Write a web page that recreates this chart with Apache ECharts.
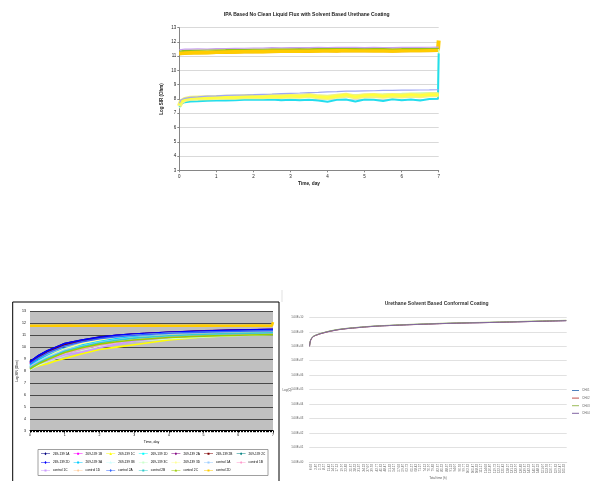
<!DOCTYPE html>
<html><head><meta charset="utf-8">
<script src="https://cdn.jsdelivr.net/npm/echarts@6/dist/echarts.min.js"></script>
<style>html,body{margin:0;padding:0;background:#fff}#c{width:592px;height:481px}</style>
</head><body><div id="c"></div><script>
// ---------- Chart 1 data (IPA Based No Clean Liquid Flux) ----------
const days1 = [0,0.05,0.15,0.3,0.5,0.75,1,1.25,1.5,1.75,2,2.25,2.5,2.75,3,3.25,3.5,3.75,4,4.25,4.5,4.75,5,5.25,5.5,5.75,6,6.25,6.5,6.75,6.98,7];
const c1TopPurple = [11.45,11.48,11.5,11.5,11.52,11.51,11.53,11.54,11.55,11.56,11.58,11.58,11.6,11.59,11.6,11.61,11.6,11.62,11.61,11.62,11.63,11.62,11.6,11.62,11.61,11.6,11.62,11.63,11.62,11.63,11.64,11.64];
const c1TopGreen  = [11.35,11.38,11.4,11.42,11.43,11.44,11.45,11.46,11.48,11.48,11.5,11.5,11.51,11.52,11.52,11.53,11.52,11.54,11.54,11.55,11.55,11.54,11.53,11.54,11.53,11.52,11.53,11.55,11.54,11.55,11.56,11.56];
const c1TopAmber  = [11.15,11.17,11.18,11.2,11.21,11.22,11.24,11.25,11.26,11.27,11.28,11.3,11.29,11.31,11.32,11.33,11.32,11.34,11.35,11.33,11.36,11.35,11.34,11.36,11.35,11.33,11.35,11.37,11.36,11.37,11.38,11.38];
const c1TopGold   = [11.2,11.22,11.25,11.24,11.27,11.26,11.3,11.32,11.31,11.34,11.35,11.33,11.37,11.36,11.38,11.36,11.4,11.39,11.42,11.4,11.43,11.41,11.42,11.4,11.41,11.39,11.42,11.43,11.41,11.44,11.45,12.1];
const c1BotPurple = [7.7,7.95,8.05,8.12,8.15,8.2,8.22,8.25,8.27,8.28,8.3,8.33,8.35,8.38,8.4,8.42,8.45,8.47,8.5,8.52,8.55,8.55,8.57,8.58,8.6,8.6,8.62,8.62,8.63,8.64,8.65,8.65];
const c1BotGreen  = [7.35,7.6,7.85,7.95,8.0,8.02,8.04,8.06,8.08,8.1,8.12,8.14,8.15,8.17,8.19,8.2,8.22,8.24,8.25,8.27,8.29,8.3,8.32,8.34,8.35,8.37,8.38,8.4,8.42,8.44,8.46,11.5];
const c1BotPale   = [7.5,7.8,7.97,8.05,8.07,8.09,8.1,8.12,8.13,8.15,8.17,8.15,8.19,8.17,8.21,8.19,8.25,8.15,8.1,8.2,8.27,8.15,8.23,8.25,8.19,8.25,8.21,8.27,8.23,8.29,8.3,8.3];
const c1BotYellow = [7.6,7.85,7.98,8.05,8.08,8.05,8.1,8.12,8.1,8.15,8.18,8.14,8.2,8.16,8.22,8.18,8.25,8.15,8.1,8.2,8.3,8.15,8.25,8.3,8.2,8.28,8.22,8.3,8.25,8.32,8.3,8.3];
const c1BotCyan   = [7.45,7.68,7.78,7.82,7.84,7.87,7.89,7.9,7.92,7.94,7.97,7.95,7.97,7.92,7.94,7.92,7.95,7.9,7.8,7.94,7.97,7.82,7.97,7.94,7.86,7.98,7.92,7.97,7.9,8.0,8.02,11.2];

// ---------- Chart 2 data (Log SIR vs Time, 20 channels) ----------
const days2 = [0,0.1,0.25,0.5,0.75,1,1.5,2,2.5,3,4,5,6,7];
const names2 = ['269-139 1A','269-139 1B','269-139 1C','269-139 1D','269-139 2A','269-139 2B','269-139 2C',
                '269-139 2D','269-139 3A','269-139 3B','269-139 3C','269-139 3D','control 1A','control 1B',
                'control 1C','control 1D','control 2A','control 2B','control 2C','control 2D'];
const colors2 = ['#000080','#FF00FF','#FFFF00','#00FFFF','#800080','#800000','#008080',
                 '#0000FF','#00CCFF','#CCFFFF','#CCFFCC','#FFFF99','#99CCFF','#FF99CC',
                 '#CC99FF','#FFCC99','#3366FF','#33CCCC','#99CC00','#FFCC00'];
const markers2 = ['diamond','square','triangle','square','diamond','square','diamond',
                  'diamond','square','triangle','square','diamond','square','diamond',
                  'square','diamond','diamond','square','triangle','square'];
const s1A = [8.8,9.0,9.3,9.7,10.0,10.3,10.6,10.85,11.0,11.1,11.25,11.35,11.42,11.48];
const s1B = [8.6,8.85,9.15,9.55,9.9,10.2,10.5,10.75,10.92,11.05,11.2,11.3,11.38,11.45];
const s1C = [8.2,8.3,8.45,8.6,8.85,9.05,9.45,9.8,10.0,10.2,10.6,10.85,11.0,11.12];
const s1D = [8.4,8.6,8.85,9.2,9.5,9.8,10.2,10.5,10.7,10.88,11.05,11.15,11.22,11.28];
const s2A = [8.7,8.95,9.25,9.65,9.95,10.25,10.55,10.8,10.98,11.1,11.25,11.36,11.44,11.5];
const s2B = [8.65,8.9,9.2,9.6,9.9,10.2,10.5,10.78,10.95,11.08,11.22,11.32,11.4,11.46];
const s2C = [8.3,8.5,8.75,9.05,9.35,9.6,9.95,10.3,10.5,10.68,10.9,11.05,11.15,11.22];
const s2D = [8.75,9.0,9.3,9.7,10.0,10.3,10.6,10.82,11.0,11.1,11.24,11.34,11.42,11.47];
const s3A = [8.5,8.7,8.95,9.3,9.6,9.9,10.25,10.55,10.75,10.9,11.08,11.18,11.25,11.3];
const s3B = [8.1,8.3,8.55,8.9,9.2,9.5,9.9,10.25,10.5,10.7,10.95,11.1,11.2,11.28];
const s3C = [8.15,8.3,8.5,8.8,9.05,9.3,9.7,10.05,10.3,10.5,10.7,10.85,10.98,11.05];
const s3D = [8.3,8.5,8.8,9.2,9.55,9.85,10.3,10.6,10.85,11.0,11.15,11.22,11.28,11.32];
const sc1A = [8.35,8.55,8.8,9.15,9.45,9.75,10.1,10.4,10.62,10.8,11.0,11.12,11.2,11.26];
const sc1B = [8.3,8.5,8.7,9.0,9.25,9.5,9.85,10.15,10.4,10.6,10.82,10.98,11.08,11.15];
const sc1C = [8.25,8.4,8.6,8.85,9.1,9.35,9.6,9.95,10.25,10.5,10.8,11.0,11.12,11.2];
const sc1D = [8.2,8.4,8.65,9.0,9.3,9.6,10.0,10.3,10.55,10.75,10.98,11.1,11.18,11.24];
const sc2A = [8.6,8.8,9.1,9.5,9.8,10.1,10.45,10.7,10.88,11.0,11.16,11.26,11.33,11.38];
const sc2B = [8.25,8.45,8.7,9.05,9.35,9.65,10.05,10.35,10.58,10.75,10.95,11.08,11.15,11.2];
const sc2C = [8.15,8.35,8.6,8.95,9.25,9.55,9.95,10.25,10.45,10.6,10.8,10.92,11.0,11.06];
const days2D = [0,0.5,1,1.5,2,2.5,3,3.5,4,4.5,5,5.5,6,6.5,6.97,7];
const sc2D = [11.8,11.78,11.82,11.79,11.81,11.8,11.78,11.82,11.8,11.79,11.81,11.8,11.78,11.81,11.8,12.1];
const values2 = [s1A,s1B,s1C,s1D,s2A,s2B,s2C,s2D,s3A,s3B,s3C,s3D,sc1A,sc1B,sc1C,sc1D,sc2A,sc2B,sc2C];

// ---------- Chart 3 data (Urethane Solvent Based Conformal Coating) ----------
const hours3 = ['0.02','2.87','5.72','8.57','11.42','14.27','17.12','19.97','22.82','25.67','28.52','31.37','34.22','37.07','39.92',
  '42.77','45.62','48.47','51.32','54.17','57.02','59.87','62.72','65.57','68.42','71.27','74.12','76.97','79.82','82.67',
  '85.52','88.37','91.22','94.07','96.92','99.77','102.62','105.47','108.32','111.17','114.02','116.87','119.72','122.57',
  '125.42','128.27','131.12','133.97','136.82','139.67','142.52','145.37','148.22','151.07','153.92','156.77','159.62','162.47','165.32'];
const pos3 = [-0.45,-0.3,-0.15,0.1,0.4,1.15,2.67,4.96,7.25,10.3,14.1,17.9,25.6,33.2,40.8,48.5,58.4];
const ch01 = [1.0e8,2.0e8,2.8e8,3.8e8,4.7e8,6.0e8,8.4e8,1.22e9,1.56e9,1.93e9,2.38e9,2.72e9,3.36e9,3.95e9,4.4e9,5.0e9,5.9e9];
const ch02 = [1.0e8,1.9e8,2.7e8,3.6e8,4.5e8,5.8e8,8.1e8,1.18e9,1.52e9,1.88e9,2.33e9,2.68e9,3.3e9,3.9e9,4.35e9,4.95e9,5.85e9];
const ch03 = [1.0e8,2.1e8,2.9e8,3.9e8,4.9e8,6.2e8,8.7e8,1.27e9,1.62e9,2.0e9,2.46e9,2.82e9,3.5e9,4.1e9,4.6e9,5.25e9,6.2e9];
const ch04 = [1.0e8,2.0e8,2.75e8,3.7e8,4.6e8,5.9e8,8.3e8,1.2e9,1.55e9,1.91e9,2.36e9,2.7e9,3.33e9,3.92e9,4.38e9,4.98e9,5.88e9];
const names3 = ['CH01','CH02','CH03','CH04'];
const colors3 = ['#4F81BD','#C0504D','#9BBB59','#8064A2'];

// ---------- build ----------
const F = 'Liberation Sans';
const zip = (xs, ys) => xs.map((x, i) => [x, ys[i]]);
const chart = echarts.init(document.getElementById('c'), null, {renderer: 'canvas'});

const series = [];
function s1(data, color, w) {
  series.push({type:'line', xAxisIndex:0, yAxisIndex:0, data: zip(days1, data), showSymbol:false, symbol:'none',
    lineStyle:{color, width:w}, itemStyle:{color}, silent:true, animation:false});
}
s1(c1TopAmber,'#F2B705',2.5);
s1(c1TopGold,'#FFCC00',4);
s1(c1TopGreen,'#92C020',1.3);
s1(c1TopPurple,'#C9A0F0',1.1);
s1(c1BotGreen,'#CCFFAA',1.5);
s1(c1BotCyan,'#22DDEE',2);
s1(c1BotPale,'#F4F47C',5);
s1(c1BotYellow,'#FFFF40',2.5);
s1(c1BotPurple,'#9FA8F5',1.2);

values2.forEach((v, i) => {
  series.push({type:'line', name:names2[i], xAxisIndex:1, yAxisIndex:1, data: zip(days2, v), showSymbol:false,
    symbol:'none', lineStyle:{color:colors2[i], width:1.6}, itemStyle:{color:colors2[i]}, animation:false});
});
series.push({type:'line', name:names2[19], xAxisIndex:1, yAxisIndex:1, data: zip(days2D, sc2D), showSymbol:false,
  symbol:'none', lineStyle:{color:colors2[19], width:2.5}, itemStyle:{color:colors2[19]}, animation:false});

[ch01, ch02, ch03, ch04].forEach((v, i) => {
  series.push({type:'line', name:names3[i], xAxisIndex:3, yAxisIndex:2, data: zip(pos3, v), showSymbol:false, symbol:'none',
    smooth:true, lineStyle:{color:colors3[i], width:1}, itemStyle:{color:colors3[i]}, animation:false});
});

// legend icon paths (line with marker), drawn 9 x 3
const iconPaths = {
  diamond:  'path://M0,1.25H9V1.75H0Z M4.5,0L5.7,1.5L4.5,3L3.3,1.5Z',
  square:   'path://M0,1.25H9V1.75H0Z M3.5,0.5H5.5V2.5H3.5Z M0,0H0.01V3H0Z',
  triangle: 'path://M0,1.25H9V1.75H0Z M4.5,0L5.8,2.6H3.2Z M0,0H0.01V3H0Z'
};
const legends = names2.map((n, i) => ({
  data:[n], left: 41 + (i % 7) * 32.6, top: [452.3, 461, 469][Math.floor(i / 7)],
  itemWidth:9, itemHeight:3, padding:0, itemGap:0, selectedMode:false, icon: iconPaths[markers2[i]],
  textStyle:{fontSize:3.2, fontFamily:F, color:'#000', padding:[0,0,0,-2]}
}));
legends.push({data:names3, orient:'vertical', left:572, top:389, itemWidth:7, itemHeight:1, itemGap:4.6, padding:0,
  selectedMode:false, textStyle:{fontSize:3, fontFamily:F, color:'#666', padding:[0,0,0,-2]}, icon:'rect'});

const option = {
  animation:false,
  textStyle:{fontFamily:F},
  grid:[
    {left:179.3, top:27.7, width:259.4, height:142.6},
    {left:30, top:311.3, width:243, height:119.4, show:true, backgroundColor:'#C0C0C0', borderWidth:0},
    {left:309.3, top:317.3, width:257.4, height:146.7}
  ],
  xAxis:[
    {type:'value', gridIndex:0, min:0, max:7, interval:1,
     axisLine:{lineStyle:{color:'#868686', width:1}}, axisTick:{length:2, lineStyle:{color:'#868686'}},
     axisLabel:{fontSize:4.5, color:'#222', margin:3.5}, splitLine:{show:false},
     name:'Time, day', nameLocation:'middle', nameGap:10.5, nameTextStyle:{fontSize:4.8, fontWeight:'bold', color:'#222'}},
    {type:'value', gridIndex:1, min:0, max:7, interval:1,
     axisLine:{lineStyle:{color:'#000', width:1}}, axisTick:{length:2, lineStyle:{color:'#000'}},
     minorTick:{show:true, splitNumber:24, length:1.5, lineStyle:{color:'#000'}},
     axisLabel:{fontSize:3.5, color:'#000', margin:2}, splitLine:{show:false},
     name:'Time, day', nameLocation:'middle', nameGap:9, nameTextStyle:{fontSize:3.6, color:'#000'}},
    {type:'category', gridIndex:2, data:hours3, boundaryGap:true,
     axisLine:{lineStyle:{color:'#D9D9D9'}}, axisTick:{show:false},
     axisLabel:{interval:0, rotate:90, fontSize:3, color:'#595959', margin:2},
     splitLine:{show:false},
     name:'Total time (h)', nameLocation:'middle', nameGap:14, nameTextStyle:{fontSize:3, color:'#595959'}},
    {type:'value', gridIndex:2, min:-0.5, max:58.5, show:false}
  ],
  yAxis:[
    {type:'value', gridIndex:0, min:3, max:13, interval:1,
     axisLine:{show:true, lineStyle:{color:'#868686'}}, axisTick:{show:true, length:2, lineStyle:{color:'#868686'}},
     axisLabel:{fontSize:4.5, color:'#222', margin:3}, splitLine:{lineStyle:{color:'#D9D9D9', width:1}},
     name:'Log SIR (Ohm)', nameLocation:'middle', nameGap:15.5, nameTextStyle:{fontSize:4.5, fontWeight:'bold', color:'#222'}},
    {type:'value', gridIndex:1, min:3, max:13, interval:1,
     axisLine:{show:false}, axisTick:{show:false},
     axisLabel:{fontSize:3.5, color:'#000', margin:4}, splitLine:{lineStyle:{color:'#3A3A3A', width:0.9}},
     name:'Log SIR (Ohm)', nameLocation:'middle', nameGap:10, nameTextStyle:{fontSize:3.2, color:'#000'}},
    {type:'log', gridIndex:2, logBase:10, min:1, max:1e10, interval:1,
     axisLine:{show:false}, axisTick:{show:false},
     axisLabel:{fontSize:2.8, color:'#595959', margin:6, interval:0,
       formatter: v => { const e = Math.round(Math.log10(v)); return '1.00E+' + (e < 10 ? '0' + e : e); }},
     splitLine:{lineStyle:{color:'#D9D9D9', width:0.8}}}
  ],
  legend: legends,
  graphic:[
    {type:'text', x:306.7, y:14.7, silent:true,
     style:{text:'IPA Based No Clean Liquid Flux with Solvent Based Urethane Coating', fontSize:5, fontWeight:'bold',
            fontFamily:F, fill:'#222', align:'center', verticalAlign:'middle'}},
    {type:'text', x:436.7, y:304, silent:true,
     style:{text:'Urethane Solvent Based Conformal Coating', fontSize:5, fontWeight:'bold',
            fontFamily:F, fill:'#333', align:'center', verticalAlign:'middle'}},
    {type:'text', x:287, y:390, silent:true,
     style:{text:'Log(Ω)', fontSize:3, fontFamily:F, fill:'#595959', align:'center', verticalAlign:'middle'}},
    {type:'rect', shape:{x:12.7, y:302, width:266.3, height:190}, silent:true, z:-1,
     style:{fill:'none', stroke:'#000', lineWidth:1}},
    {type:'rect', shape:{x:38, y:449.5, width:230, height:26}, silent:true,
     style:{fill:'none', stroke:'#888', lineWidth:0.8}},
    {type:'line', shape:{x1:282, y1:290, x2:282, y2:302}, silent:true, style:{stroke:'#ccc', lineWidth:0.6}}
  ],
  series
};
chart.setOption(option);
</script></body></html>
